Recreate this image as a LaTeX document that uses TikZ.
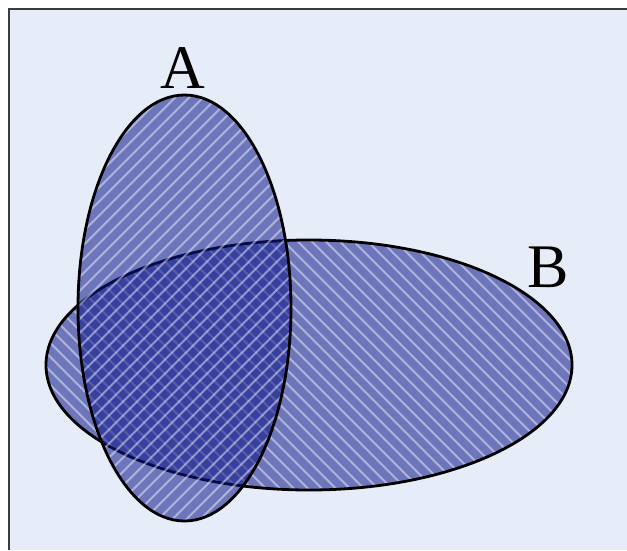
\documentclass[tikz,border=0pt]{standalone}
\usepackage{fontspec}
\setmainfont{Liberation Serif}
\usetikzlibrary{patterns.meta}
\definecolor{panel}{HTML}{E6EDF8}
\definecolor{frame}{HTML}{3C3C3C}
\definecolor{setfill}{HTML}{0C1589}

\begin{document}
\begin{tikzpicture}[x=1pt, y=-1pt,
  setArea/.style={fill=setfill, fill opacity=0.55},
  hatchA/.style={pattern={Lines[angle=45,distance=10.5pt,line width=2.2pt]}, pattern color=white, fill opacity=0.45},
  hatchB/.style={pattern={Lines[angle=-45,distance=10.5pt,line width=2.2pt]}, pattern color=white, fill opacity=0.45},
  rim/.style={draw=black, line width=2.8pt},
  setLabel/.style={font=\fontsize{62}{62}\selectfont, inner sep=0pt, anchor=base}
]
  \useasboundingbox (0,0) rectangle (627,550);
  \fill[white] (0,0) rectangle (627,550);
  \fill[panel] (9,9) rectangle (627,550);
  \draw[frame, line width=1.5pt] (9,550) -- (9,9) -- (627,9);

  \coordinate (centreA) at (184.5,308);
  \coordinate (centreB) at (309,365);

  % set B first, A laid over it
  \fill[setArea] (centreB) ellipse [x radius=263pt, y radius=125pt];
  \fill[hatchB] (centreB) ellipse [x radius=263pt, y radius=125pt];
  \draw[rim] (centreB) ellipse [x radius=263pt, y radius=125pt];

  \fill[setArea] (centreA) ellipse [x radius=106.5pt, y radius=213pt];
  \fill[hatchA] (centreA) ellipse [x radius=106.5pt, y radius=213pt];
  \draw[rim] (centreA) ellipse [x radius=106.5pt, y radius=213pt];

  \node[setLabel] (labelA) at (183,88) {A};
  \node[setLabel] (labelB) at (548,287) {B};
\end{tikzpicture}
\end{document}
